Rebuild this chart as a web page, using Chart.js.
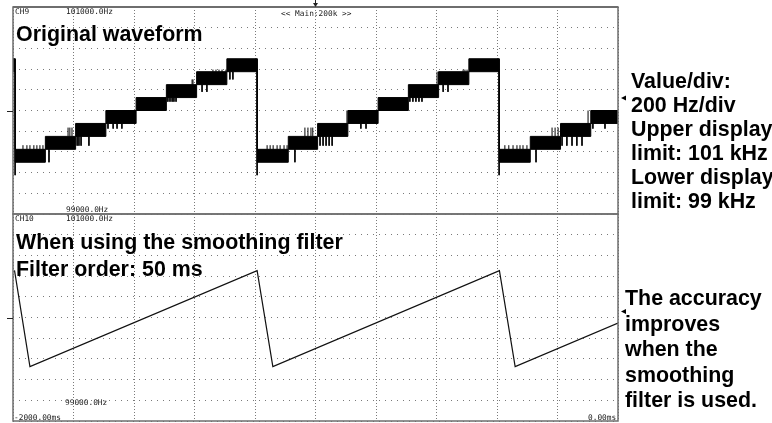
<!DOCTYPE html>
<html>
<head>
<meta charset="utf-8">
<title>Smoothing filter</title>
<script src="https://cdn.jsdelivr.net/npm/chart.js@4.4.1/dist/chart.umd.min.js"></script>
<style>
  html, body { margin: 0; padding: 0; background: #fff; }
  #wrap { position: relative; width: 772px; height: 423px; overflow: hidden; background: #fff; }
  #wrap canvas { position: absolute; left: 0; top: 0; }
  .big { position: absolute; font: bold 21.4px "Liberation Sans", Arial, sans-serif; color: #000; white-space: nowrap; }
  .small { position: absolute; font: 7.8px "DejaVu Sans Mono", monospace; line-height: 9px; color: #1a1a1a; white-space: nowrap; }
</style>
</head>
<body>
<div id="wrap">
  <canvas id="topChart" width="772" height="423"></canvas>
  <canvas id="bottomChart" width="772" height="423"></canvas>

  <div class="small" style="left:15px; top:7px;">CH9</div>
  <div class="small" id="topUpper" style="left:66px; top:7px;"></div>
  <div class="small" style="left:281px; top:9px;">&lt;&lt; Main:200k &gt;&gt;</div>
  <div class="small" id="topLower" style="left:66px; top:205px;"></div>
  <div class="small" style="left:15px; top:214px;">CH10</div>
  <div class="small" id="bottomUpper" style="left:66px; top:214px;"></div>
  <div class="small" id="bottomLower" style="left:65px; top:398px;"></div>
  <div class="small" id="timeStart" style="left:14px; top:413px;"></div>
  <div class="small" id="timeEnd" style="left:588px; top:413px;"></div>

  <div class="big" style="left:16px; top:22px; line-height:24px;">Original waveform</div>
  <div class="big" style="left:16px; top:229px; line-height:27px;">When using the smoothing filter<br>Filter order: 50 ms</div>
  <div class="big" style="left:631px; top:69px; line-height:24px;">Value/div:<br>200 Hz/div<br>Upper display<br>limit: 101 kHz<br>Lower display<br>limit: 99 kHz</div>
  <div class="big" style="left:625px; top:286px; line-height:25.5px;">The accuracy<br>improves<br>when the<br>smoothing<br>filter is used.</div>
</div>

<script>
// axis ranges (ms, Hz) and the readouts printed on the screen
const timeRange = [-2000, 0];
const hzRange = [99000, 101000];
const hzLabels = ['101000.0Hz', '99000.0Hz'];
const timeLabels = ['-2000.00ms', '0.00ms'];

// original waveform: each block is the signal toggling between two counts
const stepStart = [-2000, -1993, -1893, -1793, -1693, -1593, -1493, -1393, -1293,
  -1193, -1090, -993, -893, -793, -693, -593, -493,
  -393, -290, -190, -90, 0];
const stepLow = [100375, 99500, 99625, 99750, 99875, 100000, 100125, 100250, 100375,
  99500, 99625, 99750, 99875, 100000, 100125, 100250, 100375,
  99500, 99625, 99750, 99875, 99875];
const stepHigh = [100500, 99625, 99750, 99875, 100000, 100125, 100250, 100375, 100500,
  99625, 99750, 99875, 100000, 100125, 100250, 100375, 100500,
  99625, 99750, 99875, 100000, 100000];

// short glitches and the drops at the end of each ramp
const glitchTime = [
  -1993, -1967, -1954, -1944, -1931, -1921, -1911, -1901, -1881,
  -1818, -1812, -1805, -1788, -1782, -1775, -1749,
  -1686, -1669, -1656, -1640, -1488, -1481, -1474, -1468, -1461,
  -1408, -1405, -1375, -1359, -1339, -1329, -1319, -1309, -1296, -1283, -1273,
  -1193, -1160, -1150, -1140, -1127, -1117, -1104, -1094, -1068,
  -1035, -1025, -1015, -1009, -985, -975, -965, -955, -945, -896, -850, -833,
  -688, -678, -668, -658, -648, -598, -592, -578, -562, -512, -506, -499,
  -393, -374, -361, -347, -334, -324, -314, -301, -271,
  -218, -208, -198, -185, -169, -152, -136, -119, -99, -83, -43];
const glitchFrom = [
  100500, 99625, 99625, 99625, 99625, 99625, 99625, 99625, 99625,
  99750, 99750, 99750, 99750, 99750, 99750, 99750,
  99875, 99875, 99875, 99875, 100125, 100125, 100125, 100125, 100125,
  100250, 100250, 100250, 100250, 100375, 100375, 100375, 100375, 100375, 100375, 100375,
  100500, 99625, 99625, 99625, 99625, 99625, 99625, 99625, 99625,
  99750, 99750, 99750, 99750, 99750, 99750, 99750, 99750, 99750, 99875, 99875, 99875,
  100125, 100125, 100125, 100125, 100125, 100250, 100250, 100250, 100250, 100375, 100375, 100375,
  100500, 99625, 99625, 99625, 99625, 99625, 99625, 99625, 99625,
  99750, 99750, 99750, 99750, 99750, 99750, 99750, 99750, 99875, 99875, 99875];
const glitchTo = [
  99375, 99665, 99665, 99665, 99665, 99665, 99665, 99665, 99500,
  99835, 99835, 99835, 99660, 99660, 99660, 99660,
  99825, 99825, 99825, 99825, 100085, 100085, 100085, 100085, 100085,
  100300, 100300, 100180, 100180, 100395, 100395, 100395, 100395, 100395, 100300, 100300,
  99375, 99665, 99665, 99665, 99665, 99665, 99665, 99665, 99500,
  99835, 99835, 99835, 99835, 99660, 99660, 99660, 99660, 99660, 100000, 99825, 99825,
  100085, 100085, 100085, 100085, 100085, 100375, 100375, 100180, 100180, 100395, 100395, 100395,
  99375, 99665, 99665, 99665, 99665, 99665, 99665, 99665, 99500,
  99835, 99835, 99835, 99660, 99660, 99660, 99660, 99660, 100000, 99825, 99825];

// smoothed waveform (filter order 50 ms)
const smoothTime = [-1995, -1944, -1193, -1141, -392, -340, 0];
const smoothHz = [100455, 99525, 100452, 99525, 100452, 99525, 99947];

document.getElementById('topUpper').textContent = hzLabels[0];
document.getElementById('topLower').textContent = hzLabels[1];
document.getElementById('bottomUpper').textContent = hzLabels[0];
document.getElementById('bottomLower').textContent = hzLabels[1];
document.getElementById('timeStart').textContent = timeLabels[0];
document.getElementById('timeEnd').textContent = timeLabels[1];

function toPoints(xs, ys) {
  return xs.map((x, i) => ({ x: x, y: ys[i] }));
}

const glitchPoints = [];
glitchTime.forEach((t, i) => {
  glitchPoints.push({ x: t, y: glitchFrom[i] }, { x: t, y: glitchTo[i] }, { x: t, y: null });
});

// frame, centre tick on the left and the pointer on the right
function screenFrame(pointerOffset, topWidth) {
  return {
    id: 'screenFrame',
    afterDraw(chart) {
      const { ctx, chartArea: a } = chart;
      const y0 = chart.scales.y.getPixelForValue((hzRange[0] + hzRange[1]) / 2);
      ctx.save();
      ctx.strokeStyle = '#6e6e6e';
      ctx.lineWidth = 1.5;
      ctx.strokeRect(a.left, a.top, a.right - a.left, a.bottom - a.top);
      if (topWidth) {
        ctx.lineWidth = topWidth;
        ctx.beginPath();
        ctx.moveTo(a.left, a.top);
        ctx.lineTo(a.right, a.top);
        ctx.stroke();
      }
      ctx.lineWidth = 1;
      ctx.strokeStyle = '#222';
      ctx.beginPath();
      ctx.moveTo(a.left - 6, Math.round(y0) + 0.5);
      ctx.lineTo(a.left, Math.round(y0) + 0.5);
      ctx.stroke();
      const py = a.top + pointerOffset;
      ctx.fillStyle = '#000';
      ctx.beginPath();
      ctx.moveTo(a.right + 3, py);
      ctx.lineTo(a.right + 8, py - 2.5);
      ctx.lineTo(a.right + 8, py + 2.5);
      ctx.closePath();
      ctx.fill();
      ctx.restore();
    }
  };
}

const triggerMark = {
  id: 'triggerMark',
  afterDraw(chart) {
    const { ctx } = chart;
    const x = chart.scales.x.getPixelForValue(-1000);
    ctx.save();
    ctx.fillStyle = '#222';
    ctx.beginPath();
    ctx.moveTo(x - 2.5, 3);
    ctx.lineTo(x + 2.5, 3);
    ctx.lineTo(x, 7);
    ctx.closePath();
    ctx.fill();
    ctx.fillRect(x - 0.5, 0, 1, 4);
    ctx.restore();
  }
};

function scopeScales() {
  return {
    x: {
      type: 'linear',
      min: timeRange[0],
      max: timeRange[1],
      ticks: { display: false, stepSize: 200 },
      grid: { color: '#7a7a7a', lineWidth: 1, drawTicks: false },
      border: { display: false, dash: [1, 2] }
    },
    y: {
      type: 'linear',
      min: hzRange[0],
      max: hzRange[1],
      ticks: { display: false, stepSize: 200 },
      grid: { color: '#7a7a7a', lineWidth: 1, drawTicks: false },
      border: { display: false, dash: [1, 5] }
    }
  };
}

const baseOptions = {
  responsive: false,
  animation: false,
  devicePixelRatio: 1,
  events: [],
  plugins: { legend: { display: false }, tooltip: { enabled: false } },
  elements: { point: { radius: 0 } }
};

new Chart(document.getElementById('topChart'), {
  type: 'line',
  data: {
    datasets: [
      {
        data: toPoints(stepStart, stepHigh),
        stepped: 'before',
        borderColor: '#000',
        borderWidth: 1,
        backgroundColor: '#000',
        fill: '+1'
      },
      {
        data: toPoints(stepStart, stepLow),
        stepped: 'before',
        borderColor: '#000',
        borderWidth: 1,
        fill: false
      },
      {
        data: glitchPoints,
        borderColor: '#000',
        borderWidth: 1,
        fill: false,
        spanGaps: false
      }
    ]
  },
  options: Object.assign({}, baseOptions, {
    layout: { padding: { left: 13, top: 7, right: 154, bottom: 209 } },
    scales: scopeScales()
  }),
  plugins: [screenFrame(91, 2), triggerMark]
});

new Chart(document.getElementById('bottomChart'), {
  type: 'line',
  data: {
    datasets: [
      {
        data: toPoints(smoothTime, smoothHz),
        borderColor: '#111',
        borderWidth: 1.2,
        fill: false
      }
    ]
  },
  options: Object.assign({}, baseOptions, {
    layout: { padding: { left: 13, top: 214, right: 154, bottom: 2 } },
    scales: scopeScales()
  }),
  plugins: [screenFrame(97.5, 0)]
});
</script>
</body>
</html>
